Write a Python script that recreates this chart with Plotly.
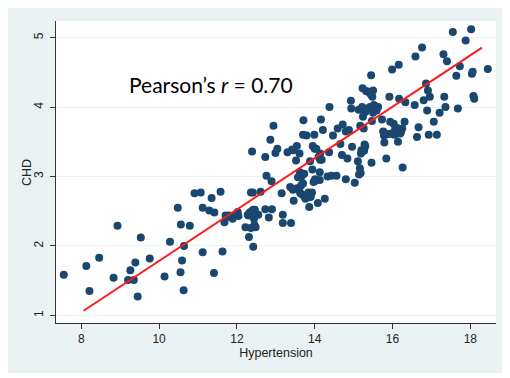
import plotly.graph_objects as go

hypertension = [
    7.55, 8.13, 8.21, 8.46, 8.83, 8.93, 9.20, 9.26, 9.35, 9.39, 9.45, 9.53, 9.76,
    10.14, 10.28, 10.48, 10.55, 10.56, 10.59, 10.63, 10.64, 10.79, 10.91, 11.07,
    11.12, 11.12, 11.29, 11.35, 11.41, 11.42, 11.58, 11.63, 11.68, 11.71, 11.80,
    11.89, 11.98, 12.02, 12.04, 12.22, 12.30, 12.31, 12.33, 12.36, 12.36, 12.39,
    12.41, 12.42, 12.44, 12.46, 12.48, 12.55, 12.61, 12.73, 12.73, 12.76, 12.82,
    12.86, 12.89, 12.90, 12.94, 12.99, 13.04, 13.15, 13.18, 13.18, 13.30, 13.37,
    13.39, 13.42, 13.44, 13.46, 13.52, 13.54, 13.57, 13.61, 13.62, 13.63, 13.65,
    13.70, 13.71, 13.73, 13.74, 13.79, 13.80, 13.84, 13.86, 13.88, 13.90, 13.93,
    13.94, 13.95, 13.97, 13.99, 14.01, 14.04, 14.08, 14.10, 14.13, 14.13, 14.14,
    14.14, 14.16, 14.18, 14.21, 14.26, 14.33, 14.37, 14.38, 14.43, 14.47, 14.56,
    14.59, 14.66, 14.70, 14.72, 14.80, 14.80, 14.84, 14.88, 14.93, 14.94, 14.96,
    15.03, 15.11, 15.13, 15.14, 15.16, 15.17, 15.19, 15.22, 15.23, 15.24, 15.26,
    15.28, 15.28, 15.30, 15.32, 15.37, 15.42, 15.45, 15.45, 15.46, 15.47, 15.50,
    15.50, 15.56, 15.59, 15.63, 15.73, 15.76, 15.78, 15.79, 15.84, 15.88, 15.92,
    15.94, 15.99, 16.01, 16.03, 16.07, 16.11, 16.14, 16.16, 16.17, 16.20, 16.25,
    16.26, 16.31, 16.33, 16.57, 16.59, 16.63, 16.67, 16.76, 16.80, 16.86, 16.89,
    16.91, 16.93, 16.96, 17.06, 17.14, 17.21, 17.31, 17.33, 17.36, 17.40, 17.55,
    17.64, 17.68, 17.73, 17.88, 18.02, 18.04, 18.06, 18.08, 18.10, 18.45,
    15.35, 15.52, 15.82, 16.05, 16.22, 13.68, 13.76, 13.86, 12.38, 12.45,
    13.55, 13.70, 13.66, 14.02, 12.50, 12.28, 11.75, 15.27, 15.30, 15.20,
    16.12, 15.97, 15.42, 15.48, 15.55, 13.60, 14.00, 13.45, 12.42, 15.18,
]

chd = [
    1.585, 1.71, 1.35, 1.83, 1.54, 2.29, 1.51, 1.65, 1.51, 1.76, 1.27, 2.12, 1.82,
    1.56, 2.06, 2.55, 1.62, 2.31, 1.79, 1.36, 2.00, 2.29, 2.76, 2.77,
    2.55, 1.91, 2.51, 2.69, 1.61, 2.48, 2.78, 1.92, 2.34, 2.44, 2.44,
    2.39, 2.45, 2.49, 2.43, 2.27, 2.44, 2.13, 2.48, 2.77, 2.26, 3.36,
    2.77, 1.99, 2.39, 2.52, 2.27, 2.45, 2.78, 3.28, 2.53, 3.01, 2.41,
    3.53, 2.93, 2.53, 3.73, 3.34, 3.40, 2.76, 2.45, 2.33, 3.35, 2.85,
    2.33, 3.39, 2.81, 2.65, 3.23, 3.44, 2.99, 3.33, 3.06, 2.76, 2.87,
    3.60, 3.81, 3.04, 2.71, 3.59, 2.71, 2.77, 2.56, 3.22, 2.71, 2.77,
    3.10, 3.44, 2.92, 3.60, 2.96, 3.40, 2.62, 3.28, 3.06, 2.95, 3.33,
    3.24, 3.82, 3.24, 3.67, 2.68, 3.00, 3.35, 4.00, 3.01, 3.59, 3.01,
    3.69, 3.47, 3.31, 3.75, 2.96, 3.65, 3.26, 3.67, 4.09, 3.98, 3.43,
    2.91, 3.22, 3.96, 3.03, 3.12, 3.73, 3.33, 4.00, 4.27, 3.86, 3.69,
    3.46, 3.41, 3.93, 4.23, 4.22, 4.00, 4.18, 4.46, 3.20, 3.80, 4.24,
    3.92, 4.01, 3.95, 4.00, 3.82, 3.65, 3.59, 3.49, 3.26, 3.61, 4.15,
    3.79, 4.54, 3.62, 3.76, 3.69, 3.62, 3.50, 4.61, 4.12, 3.62, 3.69,
    3.13, 3.79, 4.07, 4.03, 4.73, 3.57, 3.71, 4.86, 4.10, 4.34, 3.95,
    4.24, 3.60, 4.15, 3.79, 3.60, 3.92, 4.76, 4.15, 4.00, 4.66, 5.08,
    4.45, 3.98, 4.59, 4.96, 5.12, 4.48, 4.51, 4.16, 4.12, 4.55,
    3.98, 4.03, 3.62, 3.60, 3.65, 2.74, 2.68, 2.70, 2.50, 2.30,
    2.83, 2.90, 3.00, 2.94, 2.46, 2.45, 2.42, 3.37, 3.44, 3.38,
    3.70, 3.62, 4.20, 4.15, 4.00, 2.80, 3.40, 3.38, 2.52, 3.05,
]

fit_x = [8.06, 18.30]
fit_y = [1.067, 4.856]

x_ticks = [8, 10, 12, 14, 16, 18]
y_ticks = [1, 2, 3, 4, 5]

BG = "#eaf2f3"
NAVY = "#1a476f"

fig = go.Figure()
fig.add_trace(go.Scatter(
    x=hypertension, y=chd, mode="markers",
    marker=dict(color=NAVY, size=8, line=dict(width=0)),
    showlegend=False, hoverinfo="skip",
))
fig.add_trace(go.Scatter(
    x=fit_x, y=fit_y, mode="lines",
    line=dict(color="#ff1a1a", width=2),
    showlegend=False, hoverinfo="skip",
))

fig.add_annotation(
    x=11.33, y=4.33, xref="x", yref="y",
    text="Pearson’s <i>r</i> = 0.70", showarrow=False,
    font=dict(family="Lato", size=21, color="black"),
    xanchor="center", yanchor="middle",
)

axis_font = dict(family="Liberation Sans, Arial", size=12, color="#222")
title_font = dict(family="Liberation Sans, Arial", size=12.5, color="#222")

# y-axis title placed as rotated annotation
fig.add_annotation(
    x=-0.066, y=0.5, xref="paper", yref="paper",
    text="CHD", showarrow=False, textangle=-90,
    font=title_font, xanchor="center", yanchor="middle",
)

fig.update_layout(
    width=500, height=365,
    margin=dict(l=48, r=12, t=13, b=50, autoexpand=False),
    paper_bgcolor=BG, plot_bgcolor="white",
    xaxis=dict(
        range=[7.35, 18.66], tickvals=x_ticks, showgrid=False, zeroline=False,
        showline=True, linecolor="#333", linewidth=1,
        ticks="outside", ticklen=5, tickcolor="#333", tickfont=axis_font,
        title=dict(text="Hypertension", font=title_font, standoff=1),
        automargin=False,
    ),
    yaxis=dict(
        range=[0.89, 5.24], tickvals=y_ticks, showgrid=True, gridcolor=BG, gridwidth=1,
        zeroline=False, showline=True, linecolor="#333", linewidth=1,
        ticks="outside", ticklen=5, tickcolor="#333", tickfont=axis_font, tickangle=-90,
        ticklabelstandoff=2,
        automargin=False,
    ),
)

fig.write_html("out.html")
